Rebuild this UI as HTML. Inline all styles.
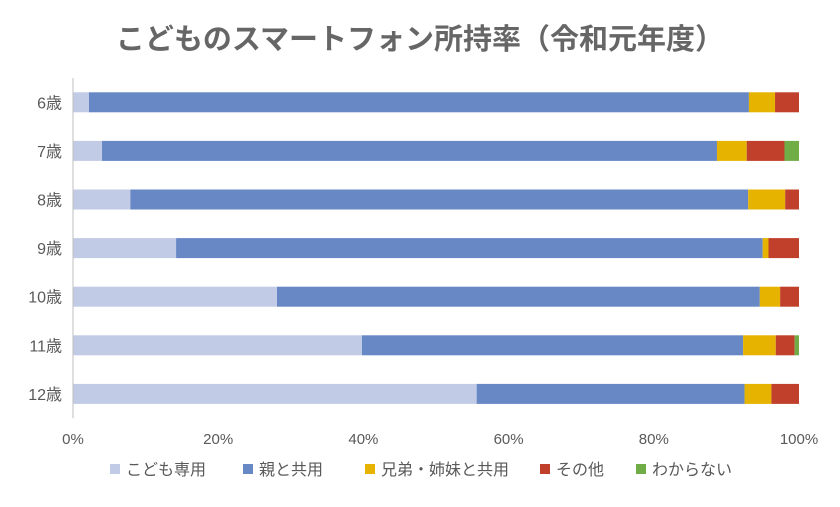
<!DOCTYPE html>
<html><head><meta charset="utf-8"><style>
body{margin:0;background:#fff;}
svg text{font-family:"Liberation Sans","Noto Sans CJK JP",sans-serif;}
</style></head><body>
<svg id="chart" width="840" height="502" viewBox="0 0 840 502" xmlns="http://www.w3.org/2000/svg">
<text x="420" y="49" text-anchor="middle" font-size="29" font-weight="bold" fill="#666">こどものスマートフォン所持率（令和元年度）</text>
<g id="plot"></g>
<g id="legend"></g>
</svg>
<script>
const categories=["6歳","7歳","8歳","9歳","10歳","11歳","12歳"];
const seriesNames=["こども専用","親と共用","兄弟・姉妹と共用","その他","わからない"];
const own=[2.2,4.0,7.9,14.2,28.1,39.8,55.6];
const shared=[90.9,84.7,85.1,80.8,66.5,52.5,36.9];
const sibling=[3.6,4.1,5.1,0.8,2.8,4.5,3.7];
const other=[3.3,5.2,1.9,4.2,2.6,2.6,3.8];
const unknown=[0,2.0,0,0,0,0.6,0];
const ticks=[0,20,40,60,80,100];
const colors=["#c1cbe6","#6787c5","#e6b400","#c0402b","#70ad47"];
const series=[own,shared,sibling,other,unknown];
const ns="http://www.w3.org/2000/svg";
const x0=73,x1=799,yTop=78,band=48.6,barH=20;
const xs=v=>x0+(x1-x0)*v/100;
const yc=i=>yTop+band*(i+0.5);
const plot=document.getElementById('plot');
function mk(t,a){const e=document.createElementNS(ns,t);for(const k in a)e.setAttribute(k,a[k]);return e;}
ticks.forEach(t=>{
 const tx=mk('text',{x:xs(t),y:444,'text-anchor':'middle','font-size':15,fill:'#595959'});
 tx.textContent=t+'%';
 
 
 plot.appendChild(tx);
});
categories.forEach((c,i)=>{
 const lb=mk('text',{x:62,y:yc(i)+6,'text-anchor':'end','font-size':16,fill:'#595959'});
 lb.textContent=c;
 
 
 plot.appendChild(lb);
 let acc=0;
 series.forEach((s,j)=>{
  const v=s[i]; if(!v) return;
  const r=mk('rect',{x:xs(acc),y:yc(i)-barH/2,width:xs(acc+v)-xs(acc),height:barH,fill:colors[j]});
  
  
  plot.appendChild(r);
  acc+=v;
 });
});
const ax=mk('line',{x1:x0,x2:x0,y1:yTop,y2:yTop+band*7,stroke:'#bfbfbf','stroke-width':1});


plot.appendChild(ax);
const lg=document.getElementById('legend');
const lx=[110,243,365,540,636];
seriesNames.forEach((n,j)=>{
 const r=mk('rect',{x:lx[j],y:464,width:10,height:10,fill:colors[j]});
 
 
 lg.appendChild(r);
 const t=mk('text',{x:lx[j]+16,y:475,'font-size':16,fill:'#595959'});
 t.textContent=n;
 
 
 lg.appendChild(t);
});
</script>
</body></html>
